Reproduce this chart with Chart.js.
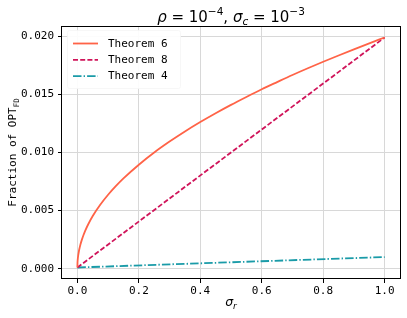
<!DOCTYPE html>
<html>
<head>
<meta charset="utf-8">
<script src="https://cdn.jsdelivr.net/npm/chart.js@4.4.0/dist/chart.umd.min.js"></script>
<style>
  html, body { margin: 0; padding: 0; background: #fff; }
  #wrap { width: 407px; height: 318px; position: relative; }
</style>
</head>
<body>
<div id="wrap"><canvas id="c"></canvas></div>
<script>
// ---- data ----
const seriesLabels = ['Theorem 6', 'Theorem 8', 'Theorem 4'];

const xTheorem6 = [0, 0.0005, 0.001, 0.0025, 0.005, 0.0075, 0.01, 0.015, 0.02, 0.025, 0.035, 0.05, 0.075,
  0.1, 0.125, 0.15, 0.2, 0.25, 0.3, 0.35, 0.4, 0.45, 0.5, 0.55, 0.6, 0.65, 0.7, 0.75, 0.8, 0.85, 0.9, 0.95, 1.0];
const yTheorem6 = [0.0001, 0.00054, 0.00073, 0.00109, 0.00150, 0.00181, 0.00208, 0.00252, 0.00290, 0.00323, 0.00380, 0.00453, 0.00552,
  0.00636, 0.00710, 0.00777, 0.00895, 0.01000, 0.01094, 0.01181, 0.01262, 0.01338, 0.01410, 0.01478, 0.01544, 0.01606, 0.01667,
  0.01725, 0.01781, 0.01835, 0.01888, 0.01940, 0.01990];

const xTheorem8 = [0, 0.5, 1.0];
const yTheorem8 = [0.0001, 0.0100, 0.0199];

const xTheorem4 = [0, 0.5, 1.0];
const yTheorem4 = [0.0001, 0.00055, 0.0010];

const xTicks = [0, 0.2, 0.4, 0.6, 0.8, 1.0];
const yTicks = [0, 0.005, 0.010, 0.015, 0.020];

const pts = (xs, ys) => xs.map((x, i) => ({ x: x, y: ys[i] }));

const MONO = '"DejaVu Sans Mono", monospace';
const SANS = '"DejaVu Sans", sans-serif';

function drawRich(ctx, segs, cx, baseY) {
  let w = 0;
  segs.forEach(s => { ctx.font = s.font; s.w = ctx.measureText(s.t).width; w += s.w; });
  let x = cx - w / 2;
  ctx.textBaseline = 'alphabetic';
  ctx.textAlign = 'left';
  segs.forEach(s => { ctx.font = s.font; ctx.fillText(s.t, x, baseY + (s.dy || 0)); x += s.w; });
}

const decor = {
  id: 'decor',
  afterDatasetsDraw(chart) {
    const ctx = chart.ctx;
    const ca = chart.chartArea;
    // legend
    ctx.save();
    const bx = ca.left + 5, by = ca.top + 4, bw = 113, bh = 58;
    ctx.fillStyle = 'rgba(255,255,255,0.92)';
    ctx.strokeStyle = 'rgba(245,245,245,0.8)';
    ctx.lineWidth = 1;
    ctx.beginPath();
    ctx.roundRect(bx + 0.5, by + 0.5, bw, bh, 2);
    ctx.fill();
    ctx.stroke();
    chart.data.datasets.forEach((ds, i) => {
      const yy = ca.top + 17.5 + i * 16.3;
      ctx.strokeStyle = ds.borderColor;
      ctx.lineWidth = ds.borderWidth;
      ctx.setLineDash(ds.borderDash || []);
      ctx.beginPath();
      ctx.moveTo(ca.left + 11, yy);
      ctx.lineTo(ca.left + 36, yy);
      ctx.stroke();
      ctx.setLineDash([]);
      ctx.fillStyle = '#000';
      ctx.font = '11px ' + MONO;
      ctx.textBaseline = 'middle';
      ctx.textAlign = 'left';
      ctx.fillText(ds.label, ca.left + 46, yy + 0.5);
    });
    ctx.restore();
  },
  afterDraw(chart) {
    const ctx = chart.ctx;
    const ca = chart.chartArea;
    ctx.save();
    // spines
    ctx.strokeStyle = '#000';
    ctx.lineWidth = 1;
    ctx.strokeRect(Math.round(ca.left) - 0.5, Math.round(ca.top) + 0.5, Math.round(ca.right - ca.left) + 1, Math.round(ca.bottom - ca.top) - 1);
    ctx.fillStyle = '#000';
    const cx = (ca.left + ca.right) / 2;
    // title
    drawRich(ctx, [
      { t: 'ρ', font: 'italic 15px ' + SANS },
      { t: ' = 10', font: '15px ' + SANS },
      { t: '−4', font: '10.5px ' + SANS, dy: -6.5 },
      { t: ', ', font: '15px ' + SANS },
      { t: 'σ', font: 'italic 15px ' + SANS },
      { t: 'c', font: 'italic 10.5px ' + SANS, dy: 3 },
      { t: ' = 10', font: '15px ' + SANS },
      { t: '−3', font: '10.5px ' + SANS, dy: -6.5 }
    ], cx, 21.5);
    // x label
    drawRich(ctx, [
      { t: 'σ', font: 'italic 12.5px ' + SANS },
      { t: 'r', font: 'italic 9px ' + SANS, dy: 2.5 }
    ], cx, 306);
    // y label
    ctx.translate(16, (ca.top + ca.bottom) / 2);
    ctx.rotate(-Math.PI / 2);
    drawRich(ctx, [
      { t: 'Fraction of OPT', font: '11px ' + MONO },
      { t: 'FD', font: '7.5px ' + MONO, dy: 2.5 }
    ], 0, 0);
    ctx.restore();
  }
};

new Chart(document.getElementById('c'), {
  type: 'line',
  data: {
    datasets: [
      { label: seriesLabels[0], data: pts(xTheorem6, yTheorem6), borderColor: '#ff6347', borderWidth: 1.8, pointRadius: 0, cubicInterpolationMode: 'monotone' },
      { label: seriesLabels[1], data: pts(xTheorem8, yTheorem8), borderColor: '#d0145a', borderWidth: 1.8, borderDash: [5, 2.2], pointRadius: 0 },
      { label: seriesLabels[2], data: pts(xTheorem4, yTheorem4), borderColor: '#1a9ba8', borderWidth: 1.8, borderDash: [8.5, 2.1, 1.4, 2.1], pointRadius: 0 }
    ]
  },
  options: {
    responsive: true,
    maintainAspectRatio: false,
    animation: false,
    devicePixelRatio: 1,
    layout: { padding: { top: 26, right: 7, left: 0, bottom: 0 } },
    plugins: { legend: { display: false }, title: { display: false }, tooltip: { enabled: false } },
    scales: {
      x: {
        type: 'linear',
        min: -0.05, max: 1.05,
        afterBuildTicks: s => { s.ticks = xTicks.map(v => ({ value: v })); },
        afterFit: s => { s.height = 39; },
        grid: { color: '#d8d8d8', lineWidth: 1, tickColor: '#000', tickLength: 4 },
        border: { display: false },
        ticks: { color: '#000', font: { family: MONO, size: 11 }, padding: 2, maxRotation: 0,
                 callback: v => v.toFixed(1) }
      },
      y: {
        type: 'linear',
        min: -0.00089, max: 0.02089,
        afterBuildTicks: s => { s.ticks = yTicks.map(v => ({ value: v })); },
        afterFit: s => { s.width = 62; },
        grid: { color: '#d8d8d8', lineWidth: 1, tickColor: '#000', tickLength: 4 },
        border: { display: false },
        ticks: { color: '#000', font: { family: MONO, size: 11 }, padding: 4,
                 callback: v => v.toFixed(3) }
      }
    }
  },
  plugins: [decor]
});
</script>
</body>
</html>
